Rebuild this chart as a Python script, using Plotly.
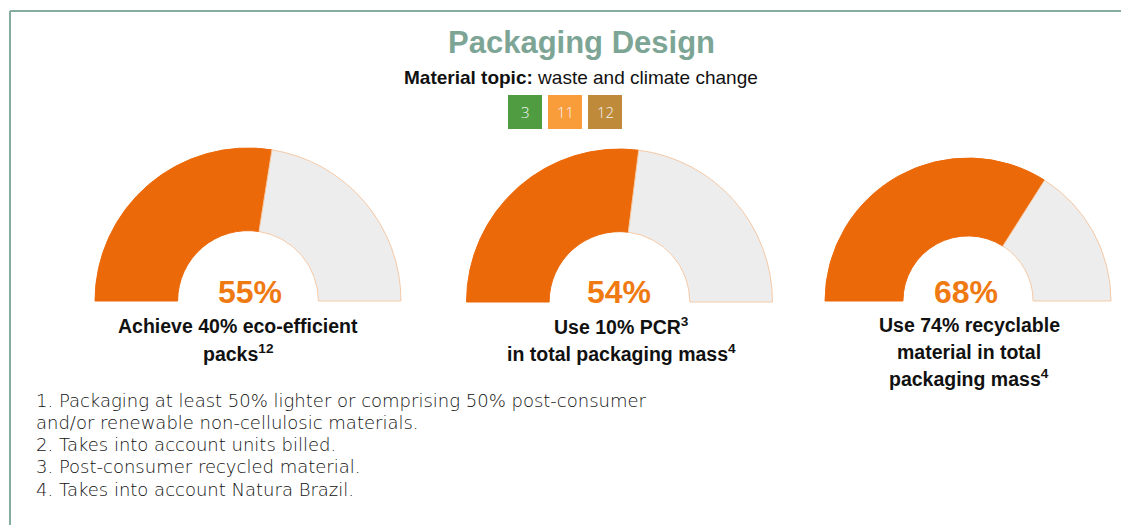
import plotly.graph_objects as go

# ---- data ----
pct_values = [55, 54, 68]
pct_labels = ["55%", "54%", "68%"]
goal_lines = [
    ["Achieve 40% eco-efficient", "packs<sup>12</sup>"],
    ["Use 10% PCR<sup>3</sup>", "in total packaging mass<sup>4</sup>"],
    ["Use 74% recyclable", "material in total", "packaging mass<sup>4</sup>"],
]
badge_labels = ["3", "11", "12"]
footnotes = [
    "1. Packaging at least 50% lighter or comprising 50% post-consumer",
    "and/or renewable non-cellulosic materials.",
    "2. Takes into account units billed.",
    "3. Post-consumer recycled material.",
    "4. Takes into account Natura Brazil.",
]
title_text = "Packaging Design"
subtitle_text = "<b>Material topic:</b> waste and climate change"

# ---- style / layout ----
W, H = 1129, 525
OFF = 8  # page body margin
ORANGE = "#EC6909"
GREY = "#EDEDED"
EDGE = "#F5C9A6"
PCT_COLOR = "#F07A12"
SAGE = "#7DA595"
FONT = "Liberation Sans, Arial, sans-serif"
NOTE_FONT = "DejaVu Sans, sans-serif"
BADGE_FONT = "Open Sans, sans-serif"
badge_colors = ["#4F9C41", "#F99C3A", "#BF8A3A"]

# gauge geometry in pixels: (cx, cy, r_outer, hole_ratio)
gauges = [(248, 301, 153, 0.46), (619.5, 302, 153, 0.46), (968, 301, 143, 0.455)]
pct_x = [250, 619, 966]
label_x = [238, 621, 969]
label_y0 = [326, 326, 325]
LINE_GAP = 26.5

fig = go.Figure()

def px_x(x):
    return (x - OFF) / W

def px_y(y):
    return 1 - (y - OFF) / H

for i, (cx, cy, r, hole) in enumerate(gauges):
    v = pct_values[i]
    fig.add_trace(go.Pie(
        values=[v, 100 - v, 100],
        sort=False,
        direction="clockwise",
        rotation=-90,
        hole=hole,
        textinfo="none",
        hoverinfo="skip",
        showlegend=False,
        marker=dict(colors=[ORANGE, GREY, "rgba(0,0,0,0)"],
                    line=dict(color=[ORANGE, EDGE, "rgba(0,0,0,0)"], width=1)),
        domain=dict(x=[px_x(cx - r), px_x(cx + r)],
                    y=[px_y(cy + r), px_y(cy - r)]),
    ))
    fig.add_annotation(x=px_x(pct_x[i]), y=px_y(292), xref="paper", yref="paper",
                       text=f"<b>{pct_labels[i]}</b>", showarrow=False,
                       font=dict(family=FONT, size=32, color=PCT_COLOR),
                       xanchor="center", yanchor="middle")
    for k, ln in enumerate(goal_lines[i]):
        fig.add_annotation(x=px_x(label_x[i]), y=px_y(label_y0[i] + k * LINE_GAP),
                           xref="paper", yref="paper",
                           text=f"<b>{ln}</b>", showarrow=False,
                           font=dict(family=FONT, size=19.5, color="#111111"),
                           xanchor="center", yanchor="middle", align="center")

# title & subtitle
fig.add_annotation(x=px_x(581), y=px_y(42), xref="paper", yref="paper",
                   text=f"<b>{title_text}</b>", showarrow=False,
                   font=dict(family=FONT, size=31, color=SAGE),
                   xanchor="center", yanchor="middle")
fig.add_annotation(x=px_x(581), y=px_y(77), xref="paper", yref="paper",
                   text=subtitle_text, showarrow=False,
                   font=dict(family=FONT, size=19, color="#111111"),
                   xanchor="center", yanchor="middle")

# badges
bx0 = 508
for j, lab in enumerate(badge_labels):
    x0 = bx0 + j * 40
    fig.add_shape(type="rect", xref="paper", yref="paper",
                  x0=px_x(x0), x1=px_x(x0 + 34), y0=px_y(129), y1=px_y(95),
                  fillcolor=badge_colors[j], line=dict(width=0), layer="above")
    fig.add_annotation(x=px_x(x0 + 17), y=px_y(112), xref="paper", yref="paper",
                       text=lab, showarrow=False,
                       font=dict(family=BADGE_FONT, size=15, color="#F3F3F3", weight=300),
                       xanchor="center", yanchor="middle")

# footnotes
for k, line in enumerate(footnotes):
    fig.add_annotation(x=px_x(34), y=px_y(400 + k * 22.3), xref="paper", yref="paper",
                       text=line, showarrow=False,
                       font=dict(family=NOTE_FONT, size=18, color="#111111", weight=300),
                       xanchor="left", yanchor="middle")

# border lines
BORDER = "#84AD9E"
fig.add_shape(type="line", xref="paper", yref="paper",
              x0=px_x(10), x1=1, y0=px_y(11), y1=px_y(11),
              line=dict(color=BORDER, width=2))
fig.add_shape(type="line", xref="paper", yref="paper",
              x0=px_x(10), x1=px_x(10), y0=0, y1=px_y(11),
              line=dict(color=BORDER, width=2))

fig.update_layout(width=W, height=H, margin=dict(l=0, r=0, t=0, b=0),
                  paper_bgcolor="white", plot_bgcolor="white",
                  showlegend=False)

fig.write_html("out.html")
